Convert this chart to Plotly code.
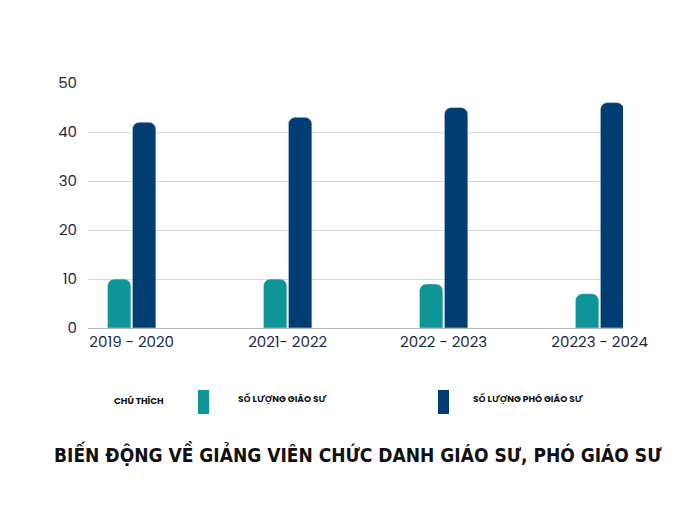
import plotly.graph_objects as go

years = ["2019 - 2020", "2021- 2022", "2022 - 2023", "20223 - 2024"]
giao_su = [10, 10, 9, 7]
pho_giao_su = [42, 43, 45, 46]
y_ticks = [0, 10, 20, 30, 40, 50]

teal = "#0E9598"
navy = "#023E73"
ink = "#1B2A47"

fig = go.Figure()
fig.add_trace(go.Bar(x=[0, 1, 2, 3], y=giao_su, name="Số lượng giáo sư",
                     marker=dict(color=teal, cornerradius=7)))
fig.add_trace(go.Bar(x=[0, 1, 2, 3], y=pho_giao_su, name="Số lượng phó giáo sư",
                     marker=dict(color=navy, cornerradius=7)))

L, R, T, B = 80, 615, 75, 320


def px(p):
    return (p - L) / (R - L)


def py(p):
    return (B - p) / (B - T)


fig.update_layout(
    width=700, height=525,
    margin=dict(l=L, r=700 - R, t=T, b=525 - B),
    paper_bgcolor="white", plot_bgcolor="white",
    barmode="group", bargap=0.68, bargroupgap=0.06,
    showlegend=False,
    font=dict(family="Poppins, Open Sans, sans-serif", color=ink, size=15),
)
fig.update_xaxes(tickvals=[0, 1, 2, 3], ticktext=years, range=[-0.28, 3.15],
                 showline=True, linecolor="#B5B9C0", linewidth=1, showgrid=False,
                 ticks="", tickfont=dict(size=15, color=ink))
fig.update_yaxes(range=[0, 50], tickvals=y_ticks, showgrid=True, gridcolor="#D5D8DC",
                 zeroline=False, ticks="", ticklabelstandoff=10,
                 tickfont=dict(size=15, color=ink))

# custom legend
fig.add_annotation(x=px(104), y=py(401), xref="paper", yref="paper", xanchor="left",
                   text="<b>CHÚ THÍCH</b>", showarrow=False, font=dict(size=9, color="#111"))
for x0, col, label, lx in [(190, teal, "SỐ LƯỢNG GIÁO SƯ", 228), (430, navy, "SỐ LƯỢNG PHÓ GIÁO SƯ", 463)]:
    fig.add_shape(type="rect", xref="paper", yref="paper",
                  x0=px(x0), x1=px(x0 + 11), y0=py(406), y1=py(382),
                  fillcolor=col, line=dict(width=0))
    fig.add_annotation(x=px(lx), y=py(399), xref="paper", yref="paper", xanchor="left",
                       text=f"<b>{label}</b>", showarrow=False, font=dict(size=9, color="#111"))

fig.add_annotation(x=px(350), y=py(460), xref="paper", yref="paper",
                   text="<b>BIẾN ĐỘNG VỀ GIẢNG VIÊN CHỨC DANH GIÁO SƯ, PHÓ GIÁO SƯ</b>",
                   showarrow=False,
                   font=dict(family="DejaVu Sans Condensed, Liberation Sans Narrow, sans-serif",
                             size=19, color="#111"))

fig.write_html("out.html")
